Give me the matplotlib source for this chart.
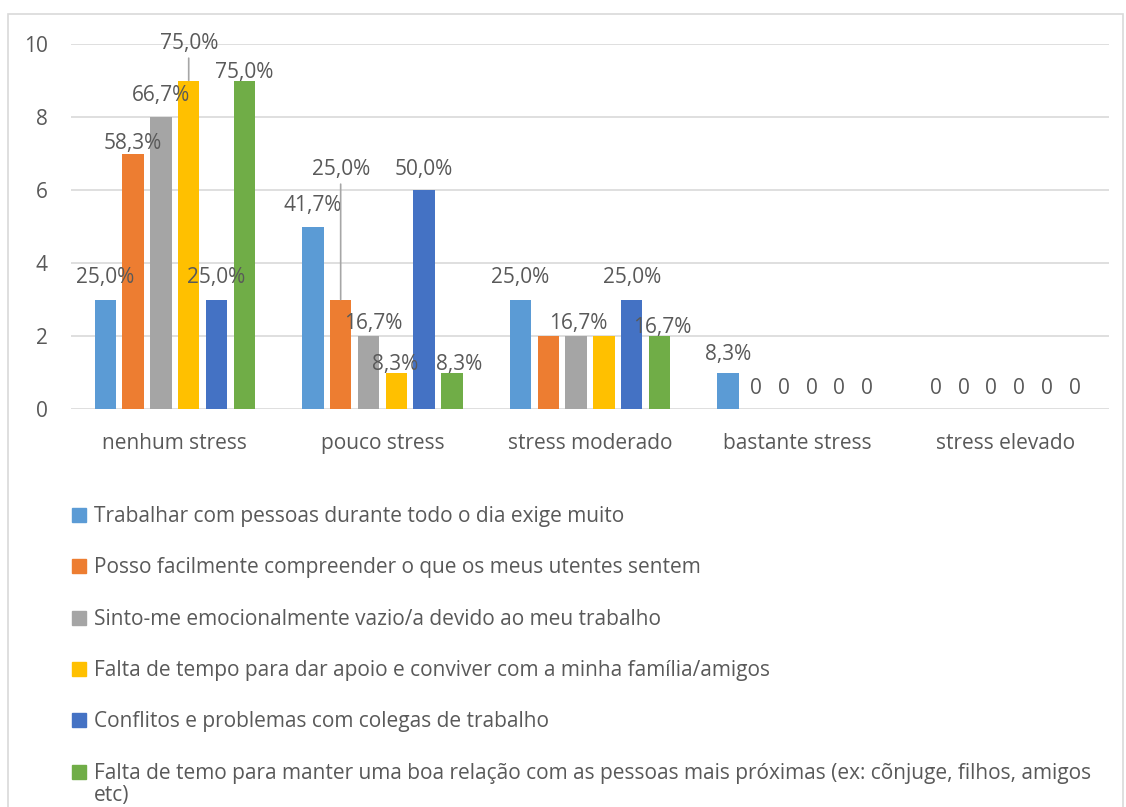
import numpy as np
import matplotlib.pyplot as plt
from matplotlib.patches import Rectangle

categories = ['nenhum stress', 'pouco stress', 'stress moderado', 'bastante stress', 'stress elevado']
series = [
    'Trabalhar com pessoas durante todo o dia exige muito',
    'Posso facilmente compreender o que os meus utentes sentem',
    'Sinto-me emocionalmente vazio/a devido ao meu trabalho',
    'Falta de tempo para dar apoio e conviver com a minha família/amigos',
    'Conflitos e problemas com colegas de trabalho',
    'Falta de temo para manter uma boa relação com as pessoas mais próximas (ex: cõnjuge, filhos, amigos\netc)',
]
trabalhar = [3, 5, 3, 1, 0]
compreender = [7, 3, 2, 0, 0]
vazio = [8, 2, 2, 0, 0]
tempo_familia = [9, 1, 2, 0, 0]
conflitos = [3, 6, 3, 0, 0]
tempo_relacao = [9, 1, 2, 0, 0]
total = 12
values = [trabalhar, compreender, vazio, tempo_familia, conflitos, tempo_relacao]
colors = ['#5B9BD5', '#ED7D31', '#A5A5A5', '#FFC000', '#4472C4', '#70AD47']

# label offsets in pixels (dx, dy above bar top), None = no label
offs = [
    [(0, 25), (0, 24), (0, 25), (0, 21), (0, 24)],
    [(0, 13), (0, 133), None, (0, 24), (0, 24)],
    [(0, 25), (5, 15), (2, 15), (0, 24), (0, 24)],
    [(0, 40), (-1, 11), None, (0, 24), (0, 24)],
    [(0, 25), (0, 24), (0, 25), (0, 24), (0, 24)],
    [(0, 11), (7, 11), (3, 11), (0, 24), (0, 24)],
]
leaders = {(3, 0), (1, 1)}

plt.rcParams['font.family'] = ['Open Sans', 'DejaVu Sans']
txt = '#595959'
fs = 15

W, H = 1126, 807
fig = plt.figure(figsize=(W / 100, H / 100), dpi=100)
fig.patches.append(Rectangle((8 / W, -0.05), 1115 / W, 1.05 - 14 / H, transform=fig.transFigure,
                             fill=False, edgecolor='#D9D9D9', linewidth=1.2))
ax = fig.add_axes([71 / W, 1 - 409 / H, (1109 - 71) / W, (409 - 44) / H])

x = np.arange(len(categories))
step = 0.134
width = 0.1036
px = 0.72
for i, vals in enumerate(values):
    xs = x + (i - 2.5) * step
    ax.bar(xs, vals, width, color=colors[i], zorder=3)
    for j, v in enumerate(vals):
        o = offs[i][j]
        if o is None:
            continue
        lab = '0' if v == 0 else f'{v / total * 100:.1f}%'.replace('.', ',')
        kw = {}
        if (i, j) in leaders:
            kw['arrowprops'] = dict(arrowstyle='-', color='#A6A6A6', lw=1.2,
                                    relpos=(0.5, 0), shrinkA=1, shrinkB=0)
        ax.annotate(lab, (xs[j], v), xytext=(o[0] * px, (o[1] - 3) * px), textcoords='offset points',
                    ha='center', va='center', fontsize=fs, color=txt, zorder=4, **kw)

ax.set_xlim(-0.5, len(categories) - 0.5)
ax.set_ylim(0, 10)
ax.set_yticks(range(0, 11, 2))
ax.set_xticks(x)
ax.set_xticklabels(categories)
ax.grid(axis='y', color='#D9D9D9', linewidth=1.2, zorder=0)
for s in ax.spines.values():
    s.set_visible(False)
ax.tick_params(axis='y', length=0, pad=23 * px, labelsize=fs, labelcolor=txt)
ax.tick_params(axis='x', length=0, pad=24 * px, labelsize=fs, labelcolor=txt)

# legend
for i, name in enumerate(series):
    yc = 515 + i * 51.3
    fig.patches.append(Rectangle((72 / W, 1 - (yc + 7) / H), 14 / W, 14 / H,
                                 transform=fig.transFigure, color=colors[i]))
    fig.text(94 / W, 1 - (yc - 9) / H, name, ha='left', va='top', fontsize=fs, color=txt,
             linespacing=1.12)

fig.savefig('out.png', dpi=100)
